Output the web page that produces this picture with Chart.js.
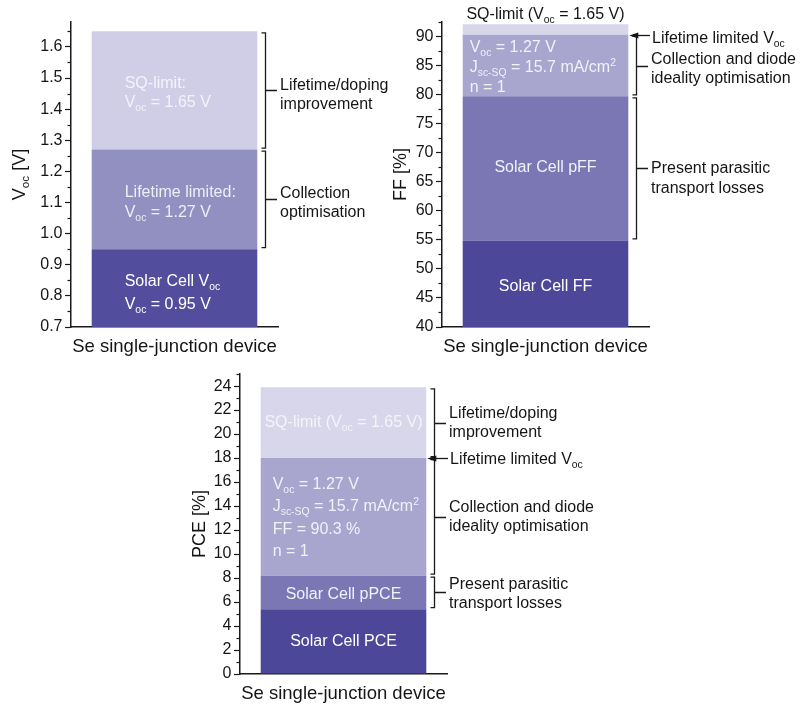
<!DOCTYPE html>
<html>
<head>
<meta charset="utf-8">
<script src="https://cdn.jsdelivr.net/npm/chart.js@4.4.1/dist/chart.umd.min.js"></script>
<style>
  html, body { margin: 0; padding: 0; background: #ffffff; }
  #wrap { position: relative; width: 800px; height: 706px; }
  canvas { position: absolute; display: block; }
</style>
</head>
<body>
<div id="wrap">
  <canvas id="cVoc" width="390" height="362" style="left:0;top:0"></canvas>
  <canvas id="cFF" width="410" height="362" style="left:390px;top:0"></canvas>
  <canvas id="cPCE" width="650" height="344" style="left:150px;top:362px"></canvas>
</div>
<script>
// ---- data ----------------------------------------------------------------
const device = ['Se single-junction device'];

// open-circuit voltage levels (V): solar cell, lifetime limited, SQ-limit
const vocLevels = [0.95, 1.27, 1.65];
const vocNames = ['Solar Cell Voc', 'Lifetime limited', 'SQ-limit'];
const vocTicks = [0.7, 0.8, 0.9, 1.0, 1.1, 1.2, 1.3, 1.4, 1.5, 1.6];

// fill factor levels (%): solar cell FF, pFF, lifetime limited Voc, SQ-limit
const ffLevels = [54.9, 79.7, 90.3, 92.1];
const ffNames = ['Solar Cell FF', 'Solar Cell pFF', 'Lifetime limited Voc', 'SQ-limit'];
const ffTicks = [40, 45, 50, 55, 60, 65, 70, 75, 80, 85, 90];

// power conversion efficiency levels (%): PCE, pPCE, lifetime limited Voc, SQ-limit
const pceLevels = [5.4, 8.2, 18.0, 23.9];
const pceNames = ['Solar Cell PCE', 'Solar Cell pPCE', 'Lifetime limited Voc', 'SQ-limit'];
const pceTicks = [0, 2, 4, 6, 8, 10, 12, 14, 16, 18, 20, 22, 24];

// ---- styling -------------------------------------------------------------
const FONT = '"Liberation Sans", Arial, Helvetica, sans-serif';
const INK = '#151515';
const AXIS = '#1a1a1a';
const vocColors = ['#534d9d', '#928fc1', '#d0cee6'];
const stackColors = ['#4c4799', '#7b77b4', '#a8a5ce', '#d7d6ea'];

// text with _{sub} and ^{sup} markup
function parseRich(str) {
  const parts = [];
  const re = /(_\{[^}]*\}|\^\{[^}]*\})/g;
  let last = 0, m;
  while ((m = re.exec(str))) {
    if (m.index > last) parts.push({ t: str.slice(last, m.index), mode: 0 });
    parts.push({ t: m[0].slice(2, -1), mode: m[0][0] === '_' ? 1 : 2 });
    last = re.lastIndex;
  }
  if (last < str.length) parts.push({ t: str.slice(last), mode: 0 });
  return parts;
}

function drawRich(ctx, str, x, y, size, color, align) {
  const parts = parseRich(str);
  let w = 0;
  for (const p of parts) {
    ctx.font = (p.mode ? size * 0.65 : size) + 'px ' + FONT;
    w += ctx.measureText(p.t).width;
  }
  let cx = align === 'center' ? x - w / 2 : (align === 'right' ? x - w : x);
  const base = y + 0.35 * size;
  ctx.fillStyle = color;
  ctx.textAlign = 'left';
  ctx.textBaseline = 'alphabetic';
  for (const p of parts) {
    const s = p.mode ? size * 0.65 : size;
    ctx.font = s + 'px ' + FONT;
    const by = p.mode === 1 ? base + 0.25 * size : (p.mode === 2 ? base - 0.4 * size : base);
    ctx.fillText(p.t, cx, by);
    cx += ctx.measureText(p.t).width;
  }
}

// floating stacked segments built from the cumulative levels
function segments(levels, names, colors) {
  return levels.map((v, i) => ({
    label: names[i],
    data: [[i ? levels[i - 1] : 0, v]],
    backgroundColor: colors[i],
    borderWidth: 0,
    grouped: false,
    clip: 0,
    barPercentage: 0.8,
    categoryPercentage: 1
  }));
}

// brackets, arrows, minor ticks and text drawn against the chart's scales
function makeNotes(cfg) {
  return {
    id: 'notes',
    afterDatasetsDraw(chart) {
      const ctx = chart.ctx, yS = chart.scales.y;
      const bar = chart.getDatasetMeta(0).data[0];
      const left = bar.x - bar.width / 2;
      ctx.save();
      for (const L of cfg.inner) {
        const [lo, hi] = chart.data.datasets[L.seg].data[0];
        const mid = yS.getPixelForValue((Math.max(lo, yS.min) + Math.min(hi, yS.max)) / 2) + (L.dy || 0);
        const n = L.lines.length;
        L.lines.forEach((t, i) => {
          const ly = mid + (i - (n - 1) / 2) * (L.gap || 19);
          drawRich(ctx, t, L.align === 'left' ? left + L.dx : bar.x, ly, 16, L.color, L.align || 'center');
        });
      }
      ctx.restore();
    },
    afterDraw(chart) {
      const ctx = chart.ctx, yS = chart.scales.y, area = chart.chartArea;
      const bar = chart.getDatasetMeta(0).data[0];
      const right = bar.x + bar.width / 2;
      ctx.save();
      ctx.strokeStyle = AXIS;
      ctx.fillStyle = AXIS;
      ctx.lineWidth = 1.2;

      // minor ticks
      const step = cfg.minorStep;
      for (let k = Math.ceil(yS.min / step - 1e-9); k * step <= yS.max + 1e-9; k++) {
        const v = k * step;
        if (cfg.ticks.some(t => Math.abs(t - v) < 1e-6)) continue;
        const py = Math.round(yS.getPixelForValue(v)) + 0.5;
        ctx.beginPath();
        ctx.moveTo(yS.right - 3.5, py);
        ctx.lineTo(yS.right, py);
        ctx.stroke();
      }

      // brackets
      const bx = Math.round(right + 7.5) + 0.5;
      const tx = bx + 11.5;
      const textX = tx + 3;
      ctx.lineWidth = 1.3;
      for (const B of cfg.brackets) {
        const yTop = yS.getPixelForValue(B.to) + 1.5;
        const yBot = yS.getPixelForValue(B.from) - 1.5;
        const ym = Math.round((yTop + yBot) / 2) + 0.5;
        ctx.beginPath();
        ctx.moveTo(bx - 4, yTop); ctx.lineTo(bx, yTop);
        ctx.lineTo(bx, yBot); ctx.lineTo(bx - 4, yBot);
        ctx.moveTo(bx, ym); ctx.lineTo(tx, ym);
        ctx.stroke();
        const n = B.lines.length;
        B.lines.forEach((t, i) => {
          drawRich(ctx, t, textX, ym + (B.dy || 0) + (i - (n - 1) / 2) * (B.gap || 19), 16, INK, 'left');
        });
      }

      // arrows pointing at a level
      for (const A of cfg.arrows) {
        const py = Math.round(yS.getPixelForValue(A.at)) + 0.5;
        ctx.beginPath();
        ctx.moveTo(textX - 1, py); ctx.lineTo(right + 6, py);
        ctx.stroke();
        ctx.beginPath();
        ctx.moveTo(right + 1, py);
        ctx.lineTo(right + 10, py - 3);
        ctx.lineTo(right + 10, py + 3);
        ctx.closePath();
        ctx.fill();
        drawRich(ctx, A.text, textX + 1, py + (A.dy || 0), 16, INK, 'left');
      }

      // label above the bar
      if (cfg.top) drawRich(ctx, cfg.top.text, bar.x, area.top - cfg.top.gap, 16, INK, 'center');

      // rotated y-axis title
      ctx.translate(cfg.yTitle.x, (area.top + area.bottom) / 2);
      ctx.rotate(-Math.PI / 2);
      drawRich(ctx, cfg.yTitle.text, 0, 0, 18, INK, 'center');
      ctx.restore();
    }
  };
}

function makeChart(id, o) {
  return new Chart(document.getElementById(id), {
    type: 'bar',
    data: { labels: device, datasets: segments(o.levels, o.names, o.colors) },
    options: {
      responsive: false,
      devicePixelRatio: 1,
      animation: false,
      events: [],
      layout: { padding: o.padding },
      plugins: { legend: { display: false }, tooltip: { enabled: false } },
      scales: {
        x: {
          type: 'category',
          offset: true,
          z: 1,
          grid: { display: false, drawTicks: false },
          border: { color: AXIS, width: 1.5 },
          ticks: { color: INK, font: { family: FONT, size: 18.5 }, padding: o.xPad, maxRotation: 0, minRotation: 0, autoSkip: false },
          afterFit: s => { s.height = o.xHeight; }
        },
        y: {
          type: 'linear',
          min: o.min,
          max: o.max,
          z: 1,
          afterBuildTicks: s => { s.ticks = o.ticks.map(v => ({ value: v })); },
          afterFit: s => { s.width = o.yWidth; },
          grid: { drawOnChartArea: false, drawTicks: true, tickLength: 6, tickColor: AXIS, tickWidth: 1.2 },
          border: { color: AXIS, width: 1.5 },
          ticks: {
            color: INK,
            padding: 2.5,
            font: { family: FONT, size: 16 },
            callback: v => o.fmt(v)
          }
        }
      }
    },
    plugins: [makeNotes(o.notes)]
  });
}

// ---- Voc -----------------------------------------------------------------
makeChart('cVoc', {
  levels: vocLevels, names: vocNames, colors: vocColors,
  min: 0.7, max: 1.68, ticks: vocTicks, fmt: v => v.toFixed(1),
  padding: { top: 22, left: 0, right: 112, bottom: 0 },
  yWidth: 71, xHeight: 35, xPad: 9,
  notes: {
    ticks: vocTicks, minorStep: 0.05,
    yTitle: { x: 18.3, text: 'V_{oc} [V]' },
    inner: [
      { seg: 2, align: 'left', dx: 33, dy: 1.5, gap: 19, color: '#f3f3f9', lines: ['SQ-limit:', 'V_{oc} = 1.65 V'] },
      { seg: 1, align: 'left', dx: 33, dy: 2.5, gap: 20, color: '#eeeef7', lines: ['Lifetime limited:', 'V_{oc} = 1.27 V'] },
      { seg: 0, align: 'left', dx: 33, dy: 3.5, gap: 23, color: '#ffffff', lines: ['Solar Cell V_{oc}', 'V_{oc} = 0.95 V'] }
    ],
    brackets: [
      { from: vocLevels[1], to: vocLevels[2], dy: 3, lines: ['Lifetime/doping', 'improvement'] },
      { from: vocLevels[0], to: vocLevels[1], dy: 2, lines: ['Collection', 'optimisation'] }
    ],
    arrows: []
  }
});

// ---- FF ------------------------------------------------------------------
makeChart('cFF', {
  levels: ffLevels, names: ffNames, colors: stackColors,
  min: 40, max: 92.5, ticks: ffTicks, fmt: v => String(v),
  padding: { top: 22, left: 0, right: 151, bottom: 0 },
  yWidth: 52, xHeight: 35, xPad: 9,
  notes: {
    ticks: ffTicks, minorStep: 2.5,
    yTitle: { x: 9.7, text: 'FF [%]' },
    top: { gap: 9, text: 'SQ-limit (V_{oc} = 1.65 V)' },
    inner: [
      { seg: 2, align: 'left', dx: 7, dy: 1, gap: 19.7, color: '#f1f1f8', lines: ['V_{oc} = 1.27 V', 'J_{sc-SQ} = 15.7 mA/cm^{2}', 'n = 1'] },
      { seg: 1, align: 'center', dy: -2, color: '#f1f1f8', lines: ['Solar Cell pFF'] },
      { seg: 0, align: 'center', dy: 2, color: '#ffffff', lines: ['Solar Cell FF'] }
    ],
    brackets: [
      { from: ffLevels[1], to: ffLevels[2], dy: 1.5, lines: ['Collection and diode', 'ideality optimisation'] },
      { from: ffLevels[0], to: ffLevels[1], dy: 8.5, gap: 20, lines: ['Present parasitic', 'transport losses'] }
    ],
    arrows: [
      { at: ffLevels[2], dy: 1.5, text: 'Lifetime limited V_{oc}' }
    ]
  }
});

// ---- PCE -----------------------------------------------------------------
makeChart('cPCE', {
  levels: pceLevels, names: pceNames, colors: stackColors,
  min: 0, max: 25, ticks: pceTicks, fmt: v => String(v),
  padding: { top: 7.3, left: 0, right: 353, bottom: 0 },
  yWidth: 90, xHeight: 32, xPad: 9,
  notes: {
    ticks: pceTicks, minorStep: 1,
    yTitle: { x: 48.5, text: 'PCE [%]' },
    inner: [
      { seg: 3, align: 'center', dy: -1.5, color: '#f4f4fa', lines: ['SQ-limit (V_{oc} = 1.65 V)'] },
      { seg: 2, align: 'left', dx: 12, dy: 0, gap: 22.5, color: '#f1f1f8', lines: ['V_{oc} = 1.27 V', 'J_{sc-SQ} = 15.7 mA/cm^{2}', 'FF = 90.3 %', 'n = 1'] },
      { seg: 1, align: 'center', dy: 0.5, color: '#f1f1f8', lines: ['Solar Cell pPCE'] },
      { seg: 0, align: 'center', dy: -1, color: '#ffffff', lines: ['Solar Cell PCE'] }
    ],
    brackets: [
      { from: pceLevels[2], to: pceLevels[3], dy: -1.5, lines: ['Lifetime/doping', 'improvement'] },
      { from: pceLevels[1], to: pceLevels[2], dy: -1.5, lines: ['Collection and diode', 'ideality optimisation'] },
      { from: pceLevels[0], to: pceLevels[1], dy: 0.5, lines: ['Present parasitic', 'transport losses'] }
    ],
    arrows: [
      { at: pceLevels[2], dy: 0, text: 'Lifetime limited V_{oc}' }
    ]
  }
});
</script>
</body>
</html>
